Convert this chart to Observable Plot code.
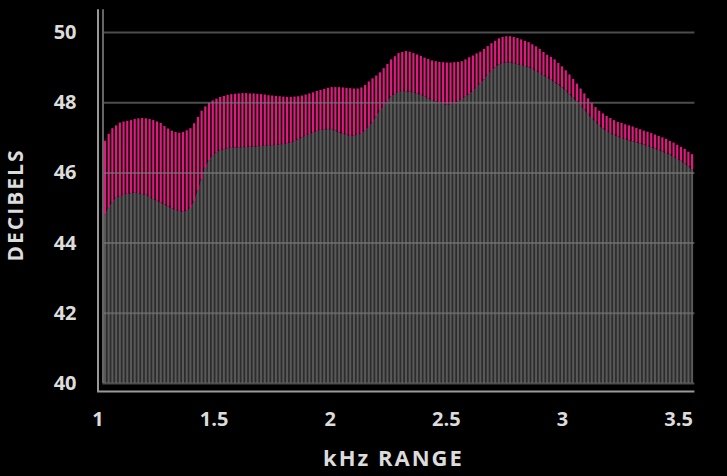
<!DOCTYPE html>
<html>
<head>
<meta charset="utf-8">
<script src="https://cdn.jsdelivr.net/npm/d3@7"></script>
<script src="https://cdn.jsdelivr.net/npm/@observablehq/plot@0.6"></script>
<style>
  html, body { margin: 0; padding: 0; background: #000; }
</style>
</head>
<body>
<div id="chart"></div>
<script>
// Frequency bins (kHz)
const khz = [
1.030,1.046,1.062,1.078,1.094,1.110,1.126,1.142,1.158,1.174,
1.190,1.206,1.222,1.238,1.254,1.270,1.286,1.302,1.318,1.334,
1.350,1.366,1.382,1.398,1.414,1.430,1.446,1.462,1.478,1.494,
1.510,1.526,1.542,1.558,1.574,1.590,1.606,1.622,1.638,1.654,
1.670,1.686,1.702,1.718,1.734,1.750,1.766,1.782,1.798,1.814,
1.830,1.846,1.862,1.878,1.894,1.910,1.926,1.942,1.958,1.974,
1.990,2.006,2.022,2.038,2.054,2.070,2.086,2.102,2.118,2.134,
2.150,2.166,2.182,2.198,2.214,2.230,2.246,2.262,2.278,2.294,
2.310,2.326,2.342,2.358,2.374,2.390,2.406,2.422,2.438,2.454,
2.470,2.486,2.502,2.518,2.534,2.550,2.566,2.582,2.598,2.614,
2.630,2.646,2.662,2.678,2.694,2.710,2.726,2.742,2.758,2.774,
2.790,2.806,2.822,2.838,2.854,2.870,2.886,2.902,2.918,2.934,
2.950,2.966,2.982,2.998,3.014,3.030,3.046,3.062,3.078,3.094,
3.110,3.126,3.142,3.158,3.174,3.190,3.206,3.222,3.238,3.254,
3.270,3.286,3.302,3.318,3.334,3.350,3.366,3.382,3.398,3.414,
3.430,3.446,3.462,3.478,3.494,3.510,3.526,3.542,3.558
];

// Upper series (pink top), dB
const upper = [
46.90,47.10,47.26,47.34,47.42,47.45,47.47,47.49,47.52,47.54,
47.55,47.54,47.52,47.49,47.45,47.41,47.32,47.25,47.19,47.15,
47.13,47.15,47.20,47.26,47.40,47.58,47.76,47.88,47.98,48.05,
48.10,48.15,48.18,48.21,48.23,48.24,48.25,48.26,48.26,48.25,
48.25,48.24,48.23,48.22,48.20,48.19,48.18,48.17,48.16,48.15,
48.15,48.16,48.17,48.19,48.22,48.25,48.28,48.32,48.35,48.38,
48.41,48.43,48.43,48.43,48.42,48.41,48.40,48.39,48.39,48.42,
48.49,48.59,48.68,48.76,48.85,48.97,49.09,49.22,49.31,49.40,
49.43,49.46,49.44,49.40,49.36,49.32,49.27,49.23,49.19,49.17,
49.15,49.14,49.13,49.13,49.14,49.15,49.17,49.22,49.28,49.33,
49.39,49.44,49.52,49.60,49.68,49.75,49.82,49.86,49.88,49.88,
49.86,49.83,49.79,49.75,49.71,49.65,49.59,49.52,49.43,49.35,
49.29,49.22,49.12,49.02,48.91,48.79,48.66,48.53,48.39,48.25,
48.11,47.98,47.86,47.76,47.68,47.61,47.55,47.49,47.44,47.41,
47.37,47.34,47.31,47.27,47.23,47.19,47.16,47.12,47.08,47.04,
47.00,46.96,46.90,46.85,46.79,46.73,46.67,46.59,46.52
];

// Lower series (grey top), dB
const lower = [
44.81,44.99,45.15,45.28,45.32,45.36,45.39,45.40,45.42,45.41,
45.38,45.36,45.30,45.24,45.19,45.14,45.08,45.03,44.98,44.93,
44.90,44.88,44.91,44.99,45.18,45.48,45.80,46.13,46.35,46.48,
46.57,46.63,46.66,46.68,46.70,46.71,46.71,46.72,46.72,46.73,
46.74,46.74,46.75,46.76,46.77,46.77,46.78,46.79,46.81,46.83,
46.85,46.89,46.94,46.99,47.04,47.09,47.13,47.17,47.21,47.22,
47.23,47.23,47.19,47.14,47.10,47.07,47.04,47.05,47.07,47.10,
47.20,47.30,47.43,47.59,47.76,47.89,48.03,48.16,48.23,48.29,
48.32,48.31,48.30,48.28,48.24,48.21,48.16,48.11,48.06,48.02,
47.98,47.95,47.93,47.94,47.98,48.03,48.09,48.16,48.23,48.32,
48.43,48.53,48.65,48.78,48.90,48.99,49.07,49.12,49.13,49.13,
49.11,49.08,49.06,49.03,48.99,48.95,48.89,48.83,48.77,48.71,
48.64,48.57,48.50,48.42,48.33,48.23,48.13,48.03,47.92,47.79,
47.67,47.55,47.44,47.34,47.25,47.18,47.12,47.07,47.02,46.98,
46.95,46.91,46.88,46.85,46.82,46.79,46.75,46.72,46.68,46.64,
46.59,46.55,46.51,46.44,46.38,46.33,46.26,46.17,46.09
];

const xTicks = [1, 1.5, 2, 2.5, 3, 3.5];
const yTicks = [40, 42, 44, 46, 48, 50];
const xLabel = "kHz RANGE";
const yLabel = "DECIBELS";

const data = khz.map((k, i) => ({k, lo: lower[i], hi: upper[i]}));

const baseY = 40;

const chart = Plot.plot({
  width: 727,
  height: 476,
  marginLeft: 97.5,
  marginRight: 32.6,
  marginTop: 32,
  marginBottom: 93,
  style: {
    background: "#000",
    color: "#dcdcdc",
    fontFamily: "'Open Sans', sans-serif",
    fontSize: "20px",
    fontWeight: "700"
  },
  x: {domain: [1, 3.57]},
  y: {domain: [40, 50]},
  marks: [
    Plot.areaY(data, {x: "k", y1: baseY, y2: "lo", fill: "#2c2c2c"}),
    Plot.ruleX(data, {x: "k", y1: baseY, y2: "lo", stroke: "#595959", strokeWidth: 2}),
    Plot.ruleX(data, {x: "k", y1: "lo", y2: "hi", stroke: "#e0197f", strokeWidth: 2.2}),
    Plot.ruleY(yTicks, {y: d => d, x1: 1.0215, x2: 3.57, stroke: "#777", strokeOpacity: 0.65, strokeWidth: 2}),
    Plot.ruleX([1.0215], {x: d => d, y1: 40, y2: 50.65, stroke: "#666", strokeWidth: 2}),
    Plot.ruleX([1], {x: d => d, y1: 39.77, y2: 50.65, stroke: "#999", strokeWidth: 2}),
    Plot.ruleY([39.77], {y: d => d, x1: 0.998, x2: 3.57, stroke: "#999", strokeWidth: 2}),
    Plot.axisX({ticks: xTicks, tickSize: 0, tickPadding: 28, label: null, tickFormat: d => String(d)}),
    Plot.axisY({ticks: yTicks, tickSize: 0, tickPadding: 21.5, label: null}),
    Plot.text([xLabel], {frameAnchor: "bottom", dy: 75, dx: -3, fontSize: 22, lineAnchor: "middle", textAnchor: "middle"}),
    Plot.text([yLabel], {frameAnchor: "left", rotate: -90, dx: -82, dy: -3, fontSize: 21, lineAnchor: "middle", textAnchor: "middle"})
  ]
});

d3.select(chart).selectAll("g[aria-label='text'] text").attr("letter-spacing", "2px");
document.getElementById("chart").appendChild(chart);
</script>
</body>
</html>
